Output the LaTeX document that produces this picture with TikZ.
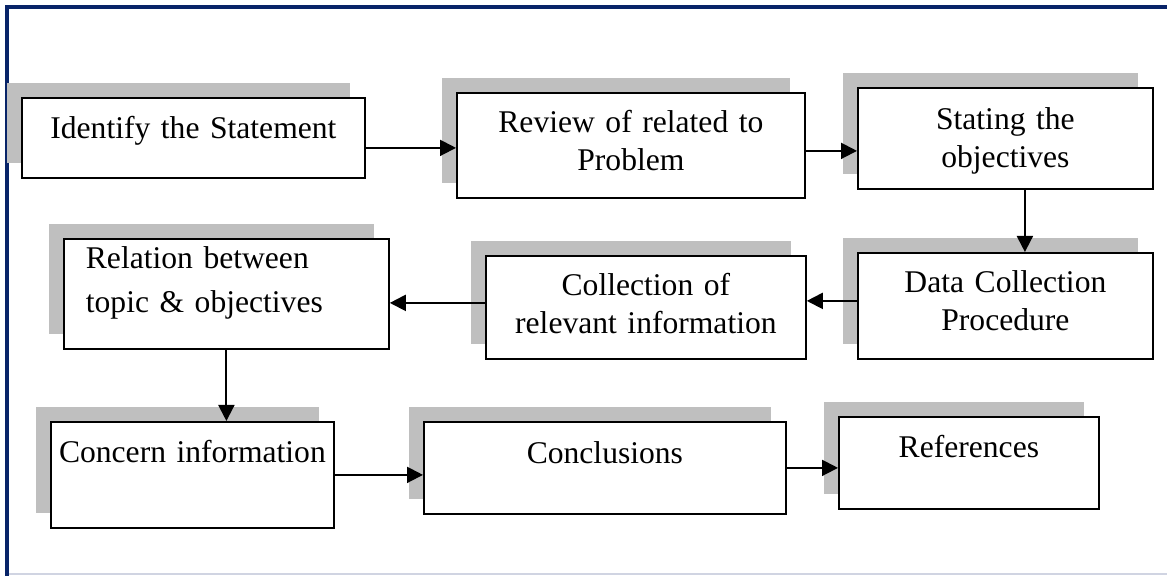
\documentclass[tikz,border=0pt]{standalone}
\usepackage{fontspec}
\setmainfont{Liberation Serif}
\usetikzlibrary{arrows.meta,shadows}
\definecolor{framenavy}{RGB}{8,36,104}
\definecolor{framegray}{RGB}{208,212,226}
\definecolor{shadowgray}{RGB}{191,191,191}
\tikzset{
  stepbox/.style={draw, fill=white, line width=0.9pt, anchor=north west, inner sep=0pt, align=center,
    font=\fontsize{15.8}{19}\selectfont,
    general shadow={fill=shadowgray, shadow xshift=-7.5pt, shadow yshift=7.5pt}},
  link/.style={-{Triangle[length=8pt,width=8pt]}, line width=1pt}
}

\begin{document}
\begin{tikzpicture}[x=0.5pt,y=-0.5pt]
\useasboundingbox (0,0) rectangle (1167,576);
% frame
\draw[framegray, line width=1pt] (7,574) -- (1167,574);
\draw[framenavy, line width=1.8pt] (7,576) -- (7,7) -- (1167,7);

\node[stepbox, text width=171.5pt, text height=20.5pt, text depth=19.5pt] (identify) at (21,97) {Identify the Statement};
\node[stepbox, text width=174pt, text height=20pt, text depth=32.5pt] (review) at (456,92) {Review of related to\\Problem};
\node[stepbox, text width=147.5pt, text height=21pt, text depth=29.5pt] (stating) at (857,87) {Stating the\\objectives};
\node[stepbox, text width=147.5pt, text height=20pt, text depth=33pt] (procedure) at (857,252) {Data Collection\\Procedure};
\node[stepbox, text width=160pt, text height=20pt, text depth=31.5pt] (collection) at (485,255) {Collection of\\relevant information};
\node[stepbox, align=left, inner xsep=11pt, text width=140.5pt, text height=15pt, text depth=40pt,
  font=\fontsize{15.8}{22}\selectfont] (relation) at (63,238) {Relation between\\topic \& objectives};
\node[stepbox, text width=141.5pt, text height=20.5pt, text depth=32.5pt] (concern) at (50,421) {Concern information};
\node[stepbox, text width=181pt, text height=21pt, text depth=25pt] (conclusions) at (423,421) {Conclusions};
\node[stepbox, text width=130pt, text height=20.5pt, text depth=25.5pt] (references) at (838,416) {References};

\draw[link] ([yshift=-5pt]identify.east) -- ([yshift=-5pt]identify.east -| review.west);
\draw[link] ([yshift=-2.75pt]review.east) -- ([yshift=-2.75pt]review.east -| stating.west);
\draw[link] ([xshift=9.75pt]stating.south) -- ([xshift=9.75pt]stating.south |- procedure.north);
\draw[link] ([yshift=2.5pt]procedure.west) -- ([yshift=2.5pt]procedure.west -| collection.east);
\draw[link] ([yshift=2.25pt]collection.west) -- ([yshift=2.25pt]collection.west -| relation.east);
\draw[link] (relation.south) -- (relation.south |- concern.north);
\draw[link] (concern.east) -- (concern.east -| conclusions.west);
\draw[link] (conclusions.east) -- (conclusions.east -| references.west);
\end{tikzpicture}
\end{document}
